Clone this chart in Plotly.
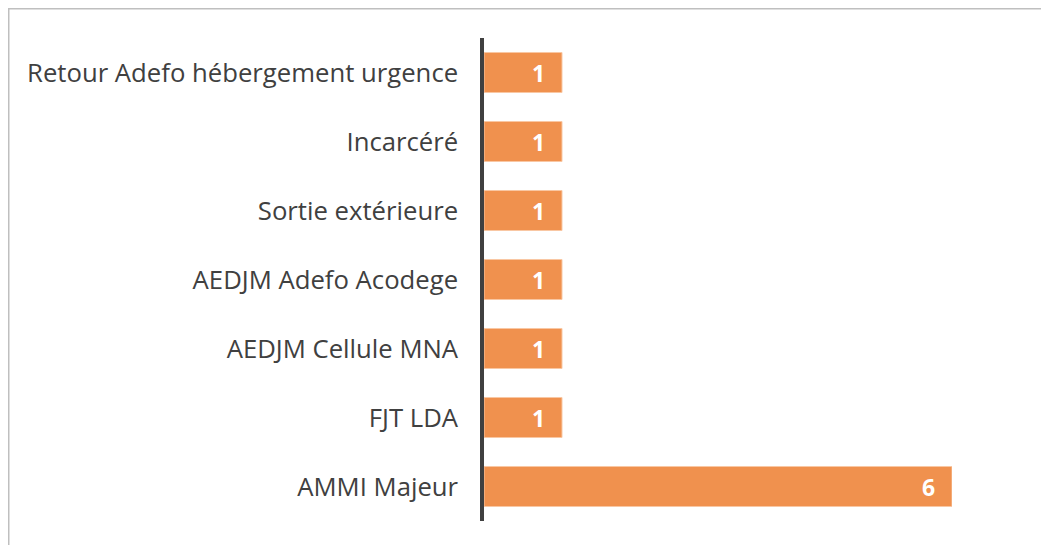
import plotly.graph_objects as go

categories = ["AMMI Majeur", "FJT LDA", "AEDJM Cellule MNA", "AEDJM Adefo Acodege",
              "Sortie extérieure", "Incarcéré", "Retour Adefo hébergement urgence"]
values = [6, 1, 1, 1, 1, 1, 1]

# page body has an 8px margin; figure origin sits at (8, 8)
W, H = 1041, 537
L, R, T, B = 476, 944, 30, 513

fig = go.Figure()
fig.add_trace(go.Bar(
    y=categories, x=values, orientation="h",
    marker=dict(color="#F0914E", line=dict(color="#F9C7A3", width=1)),
    width=0.58, hoverinfo="skip",
))
for c, v in zip(categories, values):
    fig.add_annotation(x=v, y=c, text="<b>%d</b>" % v, showarrow=False,
                       xanchor="right", xshift=-15,
                       font=dict(family="Open Sans", size=23, color="white"))


def px_x(p):
    return (p - L) / (R - L)


def px_y(p):
    return (B - p) / (B - T)


fig.add_shape(type="rect", xref="paper", yref="paper",
              x0=px_x(0.75), x1=px_x(1100), y0=px_y(0.75), y1=px_y(600),
              line=dict(color="#BFBFBF", width=1.5), layer="below")

fig.update_layout(
    width=W, height=H,
    margin=dict(l=L, r=W - R, t=T, b=H - B, pad=0),
    plot_bgcolor="white", paper_bgcolor="white",
    showlegend=False,
    xaxis=dict(range=[0, 6], visible=False, fixedrange=True),
    yaxis=dict(showline=True, linecolor="#404040", linewidth=3.5,
               ticks="outside", ticklen=17, tickcolor="rgba(0,0,0,0)",
               tickfont=dict(family="Open Sans", size=25.7, color="#404040"),
               showgrid=False, zeroline=False, fixedrange=True),
)
fig.write_html("out.html")
